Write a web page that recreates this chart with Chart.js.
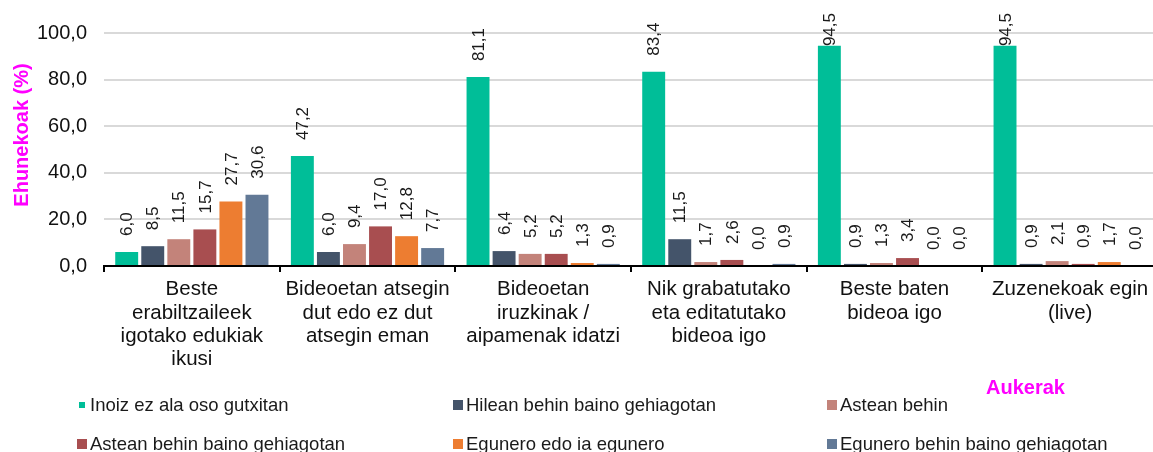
<!DOCTYPE html>
<html>
<head>
<meta charset="utf-8">
<script src="https://cdn.jsdelivr.net/npm/chart.js@4/dist/chart.umd.min.js"></script>
<style>
  html, body { margin: 0; padding: 0; background: #fff; overflow: hidden; }
  #wrap { width: 1158px; height: 452px; position: relative; }
</style>
</head>
<body>
<div id="wrap"><canvas id="barChart" width="1158" height="452"></canvas></div>
<script>
// Kategoriak (x ardatza)
const categories = [
    ['Beste', 'erabiltzaileek', 'igotako edukiak', 'ikusi'],
    ['Bideoetan atsegin', 'dut edo ez dut', 'atsegin eman'],
    ['Bideoetan', 'iruzkinak /', 'aipamenak idatzi'],
    ['Nik grabatutako', 'eta editatutako', 'bideoa igo'],
    ['Beste baten', 'bideoa igo'],
    ['Zuzenekoak egin', '(live)']
];

// Serieak
const seriesNames = [
    'Inoiz ez ala oso gutxitan',
    'Hilean behin baino gehiagotan',
    'Astean behin',
    'Astean behin baino gehiagotan',
    'Egunero edo ia egunero',
    'Egunero behin baino gehiagotan'
];
const inoizEz      = [6.0, 47.2, 81.1, 83.4, 94.5, 94.5];
const hileanBehin  = [8.5, 6.0, 6.4, 11.5, 0.9, 0.9];
const asteanBehin  = [11.5, 9.4, 5.2, 1.7, 1.3, 2.1];
const asteanGehiago = [15.7, 17.0, 5.2, 2.6, 3.4, 0.9];
const egunero      = [27.7, 12.8, 1.3, 0.0, 0.0, 1.7];
const eguneroGehiago = [30.6, 7.7, 0.9, 0.9, 0.0, 0.0];

const yTicks = [0, 20, 40, 60, 80, 100];

const colors = ['#00BE98', '#44546A', '#C3837A', '#A84E50', '#ED7D31', '#627996'];
const seriesData = [inoizEz, hileanBehin, asteanBehin, asteanGehiago, egunero, eguneroGehiago];

const fmt = v => v.toFixed(1).replace('.', ',');
const FONT = '"Liberation Sans", Arial, sans-serif';

// Etiketak, ardatz izenburua eta legenda
const extras = {
    id: 'extras',
    afterDatasetsDraw(chart) {
        const ctx = chart.ctx;
        ctx.save();
        ctx.fillStyle = '#1a1a1a';
        ctx.font = '17px ' + FONT;
        ctx.textAlign = 'left';
        ctx.textBaseline = 'middle';
        chart.data.datasets.forEach((ds, i) => {
            const meta = chart.getDatasetMeta(i);
            meta.data.forEach((bar, j) => {
                const txt = fmt(ds.data[j]);
                const w = ctx.measureText(txt).width;
                let yb = bar.y - 16;
                if (yb - w < 13) yb = 13 + w;
                ctx.save();
                ctx.translate(bar.x + 1, yb);
                ctx.rotate(-Math.PI / 2);
                ctx.fillText(txt, 0, 0);
                ctx.restore();
            });
        });
        ctx.restore();
    },
    afterDraw(chart) {
        const ctx = chart.ctx;
        ctx.save();
        // y ardatzaren izenburua
        ctx.fillStyle = '#FF00FF';
        ctx.font = 'bold 20px ' + FONT;
        ctx.textAlign = 'center';
        ctx.textBaseline = 'middle';
        ctx.translate(22, 135);
        ctx.rotate(-Math.PI / 2);
        ctx.fillText('Ehunekoak (%)', 0, 0);
        ctx.restore();

        ctx.save();
        ctx.fillStyle = '#FF00FF';
        ctx.font = 'bold 20px ' + FONT;
        ctx.textAlign = 'left';
        ctx.textBaseline = 'middle';
        ctx.fillText('Aukerak', 986, 388);

        // legenda
        const colX = [77, 453, 827];
        const rowY = [405, 444];
        ctx.font = '18.5px ' + FONT;
        seriesNames.forEach((name, i) => {
            const cx = colX[i % 3];
            const cy = rowY[Math.floor(i / 3)];
            ctx.fillStyle = colors[i];
            if (i === 0) ctx.fillRect(cx + 2, cy - 3, 6, 6);
            else ctx.fillRect(cx, cy - 5, 10, 10);
            ctx.fillStyle = '#1a1a1a';
            ctx.fillText(name, cx + 13, cy + 1);
        });
        ctx.restore();
    }
};

const ctx = document.getElementById('barChart').getContext('2d');
const barChart = new Chart(ctx, {
    type: 'bar',
    data: {
        labels: categories,
        datasets: seriesNames.map((name, i) => ({
            label: name,
            data: seriesData[i],
            backgroundColor: colors[i],
            borderWidth: 0,
            categoryPercentage: 0.89,
            barPercentage: 0.88
        }))
    },
    options: {
        responsive: false,
        animation: false,
        layout: { padding: { top: 33, left: 0, right: 0, bottom: 0 } },
        plugins: {
            legend: { display: false },
            tooltip: { enabled: false }
        },
        scales: {
            x: {
                offset: true,
                grid: {
                    display: true,
                    offset: true,
                    drawOnChartArea: false,
                    drawTicks: true,
                    tickLength: 6,
                    color: '#000',
                    lineWidth: 2
                },
                border: { display: true, color: '#000', width: 2 },
                ticks: {
                    color: '#111',
                    font: { family: FONT, size: 20.5, lineHeight: 1.14 },
                    padding: 6,
                    maxRotation: 0,
                    autoSkip: false
                },
                afterFit(scale) { scale.height = 186; }
            },
            y: {
                min: 0,
                max: 100,
                afterBuildTicks(scale) { scale.ticks = yTicks.map(v => ({ value: v })); },
                grid: { color: '#d9d9d9', lineWidth: 2, drawTicks: false },
                border: { display: false },
                ticks: {
                    color: '#111',
                    font: { family: FONT, size: 20 },
                    padding: 17,
                    callback: v => fmt(v)
                },
                afterFit(scale) { scale.width = 104; }
            }
        }
    },
    plugins: [extras]
});
</script>
</body>
</html>
